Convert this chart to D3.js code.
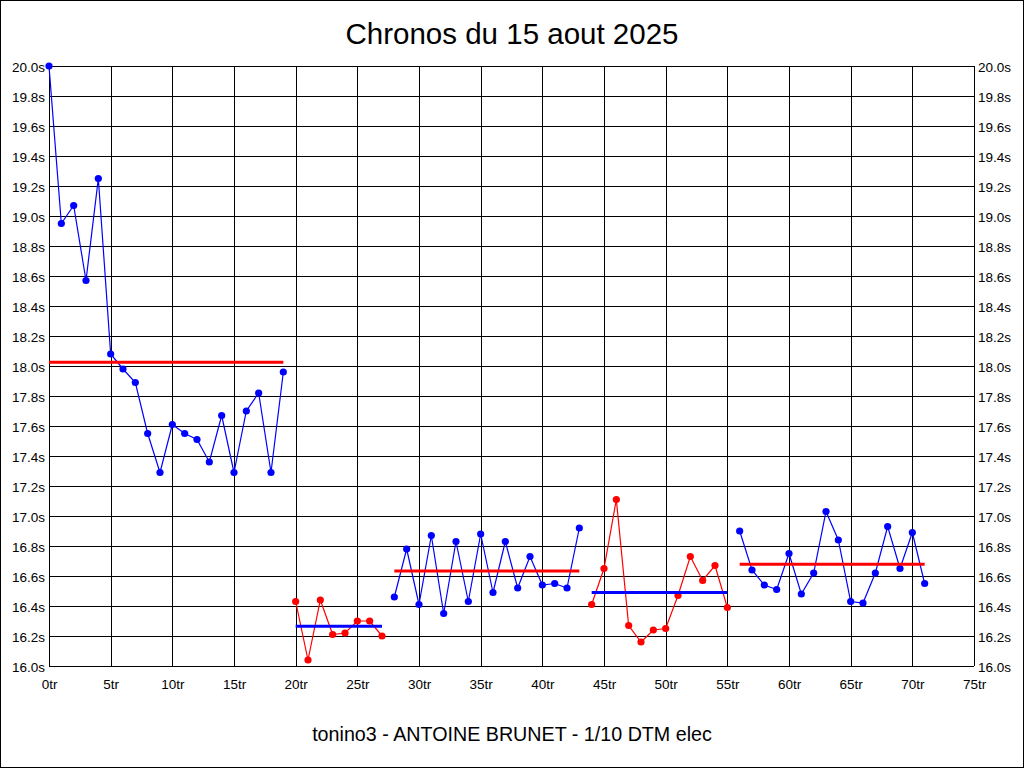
<!DOCTYPE html>
<html>
<head>
<meta charset="utf-8">
<script src="https://cdn.jsdelivr.net/npm/d3@7"></script>
<style>
  html, body { margin: 0; padding: 0; background: #fff; }
  svg { display: block; }
  text { font-family: "Liberation Sans", Arial, sans-serif; fill: #000; }
</style>
</head>
<body>
<svg id="chart" width="1024" height="768"></svg>
<script>
// ---- data ----
const chartTitle = "Chronos du 15 aout 2025";
const chartSubtitle = "tonino3 - ANTOINE BRUNET - 1/10 DTM elec";
const sessionStarts = [0, 20, 28, 44, 56];
const session1 = [20.00, 18.95, 19.07, 18.57, 19.25, 18.08, 17.98, 17.89, 17.55, 17.29,
                  17.61, 17.55, 17.51, 17.36, 17.67, 17.29, 17.70, 17.82, 17.29, 17.96];
const session2 = [16.43, 16.04, 16.44, 16.21, 16.22, 16.30, 16.30, 16.20];
const session3 = [16.46, 16.78, 16.41, 16.87, 16.35, 16.83, 16.43, 16.88, 16.49, 16.83,
                  16.52, 16.73, 16.54, 16.55, 16.52, 16.92];
const session4 = [16.41, 16.65, 17.11, 16.27, 16.16, 16.24, 16.25, 16.47, 16.73, 16.57,
                  16.67, 16.39];
const session5 = [16.90, 16.64, 16.54, 16.51, 16.75, 16.48, 16.62, 17.03, 16.84, 16.43,
                  16.42, 16.62, 16.93, 16.65, 16.89, 16.55];
const sessionAvgs = [18.025, 16.265, 16.633, 16.49, 16.678];
const xTicks = [0, 5, 10, 15, 20, 25, 30, 35, 40, 45, 50, 55, 60, 65, 70, 75];
const yTicks = [16.0, 16.2, 16.4, 16.6, 16.8, 17.0, 17.2, 17.4, 17.6, 17.8, 18.0,
                18.2, 18.4, 18.6, 18.8, 19.0, 19.2, 19.4, 19.6, 19.8, 20.0];

const sessions = [session1, session2, session3, session4, session5];

// ---- layout ----
const W = 1024, H = 768;
const L = 49, R = 974, T = 66, B = 666;
const svg = d3.select("#chart");

svg.append("rect").attr("x", 0.5).attr("y", 0.5).attr("width", W - 1).attr("height", H - 1)
  .attr("fill", "#fff").attr("stroke", "#000").attr("stroke-width", 1);

const x = d3.scaleLinear().domain([0, 75]).range([L, R]);
const y = d3.scaleLinear().domain([16, 20]).range([B, T]);

// grid
const grid = svg.append("g").attr("shape-rendering", "crispEdges");
grid.selectAll("line.h").data(yTicks).join("line")
  .attr("x1", L).attr("x2", R)
  .attr("y1", d => Math.round(y(d)) + 0.5).attr("y2", d => Math.round(y(d)) + 0.5)
  .attr("stroke", "#000").attr("stroke-width", 1);
grid.selectAll("line.v").data(xTicks).join("line")
  .attr("y1", T).attr("y2", B)
  .attr("x1", d => Math.round(x(d)) + 0.5).attr("x2", d => Math.round(x(d)) + 0.5)
  .attr("stroke", "#000").attr("stroke-width", 1);

// axes labels
const yFmt = d => d3.format(".1f")(d) + "s";
const axL = svg.append("g").attr("transform", `translate(${L - 4},1)`)
  .call(d3.axisLeft(y).tickValues(yTicks).tickFormat(yFmt).tickSize(0).tickPadding(0));
const axR = svg.append("g").attr("transform", `translate(${R + 4},1)`)
  .call(d3.axisRight(y).tickValues(yTicks).tickFormat(yFmt).tickSize(0).tickPadding(0));
const axB = svg.append("g").attr("transform", `translate(0,${B + 13})`)
  .call(d3.axisBottom(x).tickValues(xTicks).tickFormat(d => d + "tr").tickSize(0).tickPadding(0));
[axL, axR, axB].forEach(a => {
  a.select(".domain").remove();
  a.selectAll("text").attr("font-size", 13.5).attr("font-family", "'Liberation Sans', Arial, sans-serif").attr("fill", "#000");
});
axB.selectAll("text").attr("dy", "0.71em");

// series
const blue = "#0000ff", red = "#ff0000";
const line = d3.line().x(d => x(d.lap)).y(d => y(d.t));
sessions.forEach((s, i) => {
  const col = i % 2 === 0 ? blue : red;
  const avgCol = i % 2 === 0 ? red : blue;
  const pts = s.map((t, j) => ({ lap: sessionStarts[i] + j, t }));
  const g = svg.append("g");
  g.append("path").datum(pts).attr("d", line)
    .attr("fill", "none").attr("stroke", col).attr("stroke-width", 1.2);
  g.selectAll("circle").data(pts).join("circle")
    .attr("cx", d => x(d.lap)).attr("cy", d => y(d.t)).attr("r", 3.6).attr("fill", col);
  const first = sessionStarts[i], last = sessionStarts[i] + s.length - 1;
  g.append("line")
    .attr("x1", x(first)).attr("x2", x(last))
    .attr("y1", y(sessionAvgs[i])).attr("y2", y(sessionAvgs[i]))
    .attr("stroke", avgCol).attr("stroke-width", 3);
});

// titles
svg.append("text").attr("x", 512).attr("y", 44).attr("text-anchor", "middle")
  .attr("font-size", 29.5).text(chartTitle);
svg.append("text").attr("x", 512).attr("y", 741).attr("text-anchor", "middle")
  .attr("font-size", 19.7).text(chartSubtitle);
</script>
</body>
</html>
